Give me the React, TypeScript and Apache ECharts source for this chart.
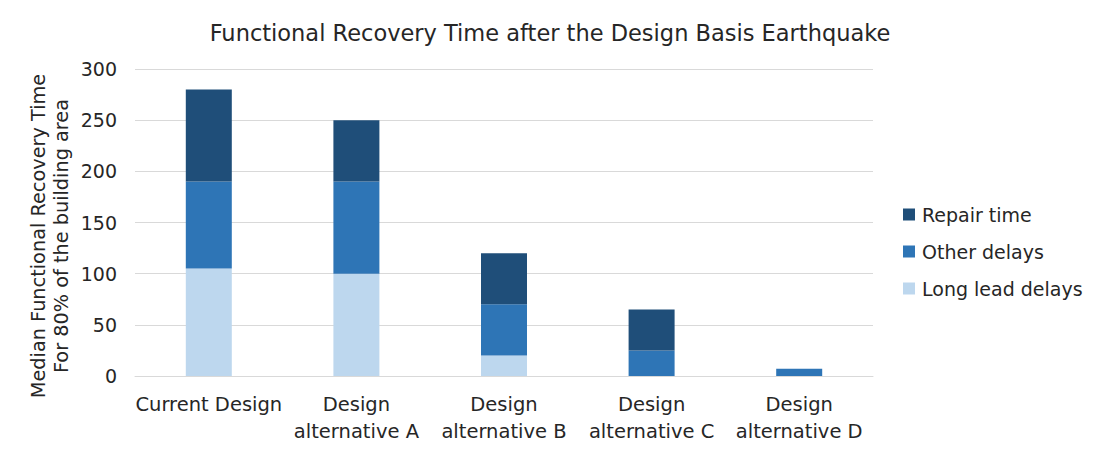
import React, { useEffect, useRef } from "react";
import * as echarts from "echarts";

const categories = [
  "Current Design",
  "Design\nalternative A",
  "Design\nalternative B",
  "Design\nalternative C",
  "Design\nalternative D",
];
const longLeadDelays = [105, 100, 20, 0, 0];
const otherDelays = [85, 90, 50, 25, 7];
const repairTime = [90, 60, 50, 40, 0];
const yTicks = [0, 50, 100, 150, 200, 250, 300];

const FONT = "DejaVu Sans";
const TEXT = "#262626";

export default function App() {
  const ref = useRef<HTMLDivElement>(null);
  useEffect(() => {
    document.body.style.margin = "0";
    const chart = echarts.init(ref.current!, null, { renderer: "svg" });
    chart.setOption({
      animation: false,
      backgroundColor: "#ffffff",
      textStyle: { fontFamily: FONT, color: TEXT },
      title: {
        text: "Functional Recovery Time after the Design Basis Earthquake",
        left: "center",
        top: 16,
        textStyle: { fontFamily: FONT, fontSize: 22.5, fontWeight: "normal", color: TEXT },
      },
      grid: { left: 135, right: 227, top: 69, bottom: 79 },
      legend: {
        orient: "vertical",
        left: 898,
        top: 200,
        itemWidth: 12,
        itemHeight: 12,
        itemGap: 18,
        icon: "rect",
        data: ["Repair time", "Other delays", "Long lead delays"],
        textStyle: { fontFamily: FONT, fontSize: 19, color: TEXT, padding: [0, 0, 0, 2] },
      },
      graphic: [
        {
          type: "text",
          x: 50,
          y: 236,
          rotation: Math.PI / 2,
          style: {
            text: "Median Functional Recovery Time\nFor 80% of the building area",
            fontFamily: FONT,
            fontSize: 19.3,
            lineHeight: 23,
            fill: TEXT,
            textAlign: "center",
            textVerticalAlign: "middle",
          },
        },
      ],
      xAxis: {
        type: "category",
        data: categories,
        axisLine: { show: true, lineStyle: { color: "#d9d9d9" } },
        axisTick: { show: false },
        axisLabel: {
          interval: 0,
          fontFamily: FONT,
          fontSize: 19.5,
          color: TEXT,
          lineHeight: 27,
          margin: 15,
        },
      },
      yAxis: {
        type: "value",
        min: yTicks[0],
        max: yTicks[yTicks.length - 1],
        interval: 50,
        axisLine: { show: false },
        axisTick: { show: false },
        splitLine: { lineStyle: { color: "#d9d9d9", width: 1 } },
        axisLabel: { fontFamily: FONT, fontSize: 19, color: TEXT, margin: 18 },
      },
      series: [
        {
          name: "Long lead delays",
          type: "bar",
          stack: "total",
          barWidth: 46,
          data: longLeadDelays,
          itemStyle: { color: "#BDD7EE" },
        },
        {
          name: "Other delays",
          type: "bar",
          stack: "total",
          barWidth: 46,
          data: otherDelays,
          itemStyle: { color: "#2E75B6" },
        },
        {
          name: "Repair time",
          type: "bar",
          stack: "total",
          barWidth: 46,
          data: repairTime,
          itemStyle: { color: "#1F4E79" },
        },
      ],
    });
    return () => chart.dispose();
  }, []);
  return <div ref={ref} style={{ width: 1100, height: 455 }} />;
}
